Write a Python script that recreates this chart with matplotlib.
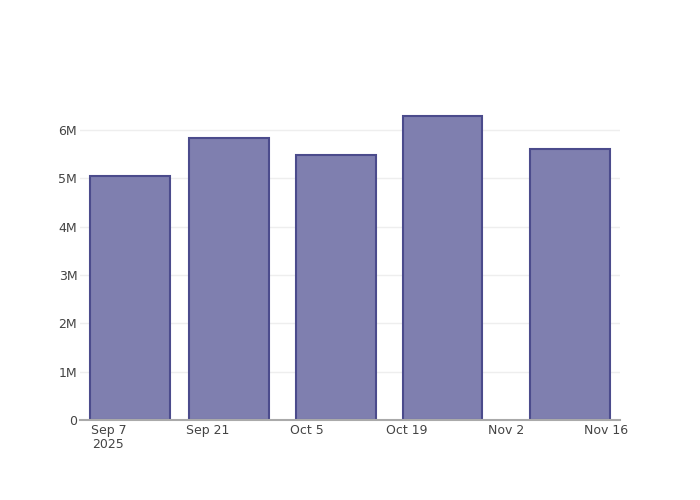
import numpy as np
import matplotlib
matplotlib.use("Agg")
import matplotlib.pyplot as plt
import matplotlib.dates as mdates
from datetime import datetime, timedelta

# bar dates and values (millions)
dates = ["2025-09-10", "2025-09-24", "2025-10-09", "2025-10-24", "2025-11-11"]
values = [5.05, 5.83, 5.48, 6.29, 5.61]

tick_dates = ["2025-09-07", "2025-09-21", "2025-10-05", "2025-10-19", "2025-11-02", "2025-11-16"]
tick_labels = ["Sep 7\n2025", "Sep 21", "Oct 5", "Oct 19", "Nov 2", "Nov 16"]

y_ticks = [0, 1, 2, 3, 4, 5, 6]
y_labels = ["0", "1M", "2M", "3M", "4M", "5M", "6M"]

plt.rcParams['font.family'] = ['DejaVu Sans']

fig = plt.figure(figsize=(7, 5), dpi=100)
ax = fig.add_axes([80 / 700, 80 / 500, 540 / 700, 320 / 500])

x = [mdates.date2num(datetime.strptime(d, "%Y-%m-%d")) for d in dates]
ax.bar(x, values, width=14 * 0.8, color='#7f7faf', edgecolor='#4b4b8c', linewidth=1.5, zorder=3)

start = mdates.date2num(datetime(2025, 9, 7))
ax.set_xlim(start - 4.0, start + 72.0)
ax.set_ylim(0, 6.62)

ax.set_xticks([mdates.date2num(datetime.strptime(d, "%Y-%m-%d")) for d in tick_dates])
ax.set_xticklabels(tick_labels, ha='center', linespacing=1.1)
ax.set_yticks(y_ticks)
ax.set_yticklabels(y_labels)

ax.grid(axis='y', color='#eeeeee', linewidth=1, zorder=0)
for s in ['top', 'right', 'left']:
    ax.spines[s].set_visible(False)
ax.spines['bottom'].set_color('#aaaaaa')
ax.spines['bottom'].set_linewidth(1.5)
ax.spines['bottom'].set_zorder(4)

ax.tick_params(axis='both', length=0, labelsize=9, colors='#444444')
ax.tick_params(axis='x', pad=3)
ax.tick_params(axis='y', pad=2)

fig.savefig("out.png", dpi=100)
